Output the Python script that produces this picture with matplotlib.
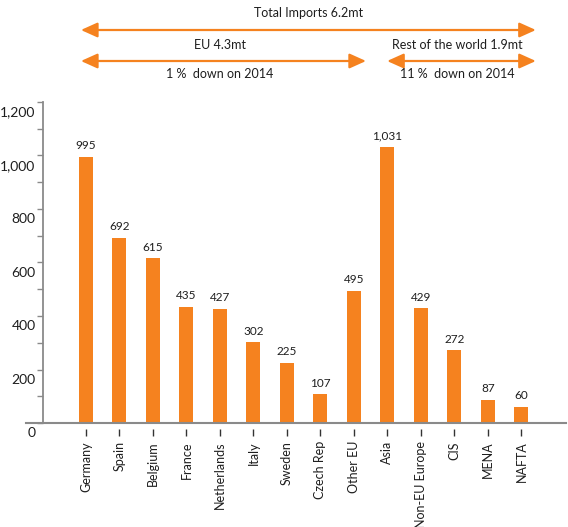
import numpy as np
import matplotlib.pyplot as plt
from matplotlib.transforms import ScaledTranslation

plt.rcParams['font.family'] = ['Lato', 'DejaVu Sans']

# categories and import volumes (kt)
countries = ["Germany", "Spain", "Belgium", "France", "Netherlands", "Italy", "Sweden",
             "Czech Rep", "Other EU", "Asia", "Non-EU Europe", "CIS", "MENA", "NAFTA"]
imports = [995, 692, 615, 435, 427, 302, 225, 107, 495, 1031, 429, 272, 87, 60]

orange = '#F5821F'
grey = '#8a8a8a'
txt = '#1e1e1e'

fig = plt.figure(figsize=(5.68, 5.27), dpi=100)
ax = fig.add_axes([26/568, 1 - 423/527, 540/568, 321/527])

x = np.arange(len(countries))
ax.bar(x, imports, width=0.42, color=orange, zorder=2)

for xi, v in zip(x, imports):
    ax.annotate(f"{v:,}", (xi, v), xytext=(0, 4), textcoords='offset points',
                ha='center', va='bottom', fontsize=8.5, color=txt)

ax.set_xlim(-1.79, 14.33)
ax.set_ylim(0, 1200)

# axis styling
for s in ['top', 'right']:
    ax.spines[s].set_visible(False)
ax.spines['left'].set_position(('data', -1.28))
ax.spines['left'].set_color(grey)
ax.spines['left'].set_linewidth(1.3)
ax.spines['bottom'].set_color(grey)
ax.spines['bottom'].set_linewidth(1.5)
ax.spines['bottom'].set_zorder(3)

ax.set_yticks(np.arange(0, 1201, 200))
ax.set_yticks(np.arange(100, 1200, 200), minor=True)
ax.set_yticklabels([f"{v:,}" for v in range(0, 1201, 200)], va='top', fontsize=10, color=txt)
ax.tick_params(axis='y', which='both', direction='out', length=4, width=1, color=grey, pad=1.5)
off = ScaledTranslation(0, -3/72, fig.dpi_scale_trans)
for lab in ax.get_yticklabels():
    lab.set_transform(lab.get_transform() + off)

ax.set_xticks(x)
ax.set_xticklabels(countries, rotation=90, fontsize=9, color=txt, va='top')
ax.tick_params(axis='x', length=0, pad=13)
# detached tick marks below the axis
ax.vlines(x, -0.02, -0.042, transform=ax.get_xaxis_transform(), color='#333333',
          lw=1, clip_on=False)

# top annotations
def arrow(x0, x1, ypix):
    yf = 1 - ypix / 527
    ax.annotate('', xy=(x0, yf), xytext=(x1, yf),
                xycoords=('data', 'figure fraction'), textcoords=('data', 'figure fraction'),
                arrowprops=dict(arrowstyle='<|-|>,head_length=1.0,head_width=0.45',
                                color=orange, lw=1.6, shrinkA=0, shrinkB=0))

def label(xc, ypix, s):
    fig.text(ax.transData.transform((xc, 0))[0] / fig.dpi / 5.68, 1 - ypix / 527, s,
             ha='center', va='center', fontsize=9, color=txt)

arrow(-0.15, 13.43, 30)
arrow(-0.15, 8.36, 61)
arrow(8.99, 13.43, 61)
label(6.65, 13, "Total Imports 6.2mt")
label(4.0, 45, "EU 4.3mt")
label(11.1, 45, "Rest of the world 1.9mt")
label(4.0, 74, "1 %  down on 2014")
label(11.1, 74, "11 %  down on 2014")

fig.savefig('out.png', dpi=100)
